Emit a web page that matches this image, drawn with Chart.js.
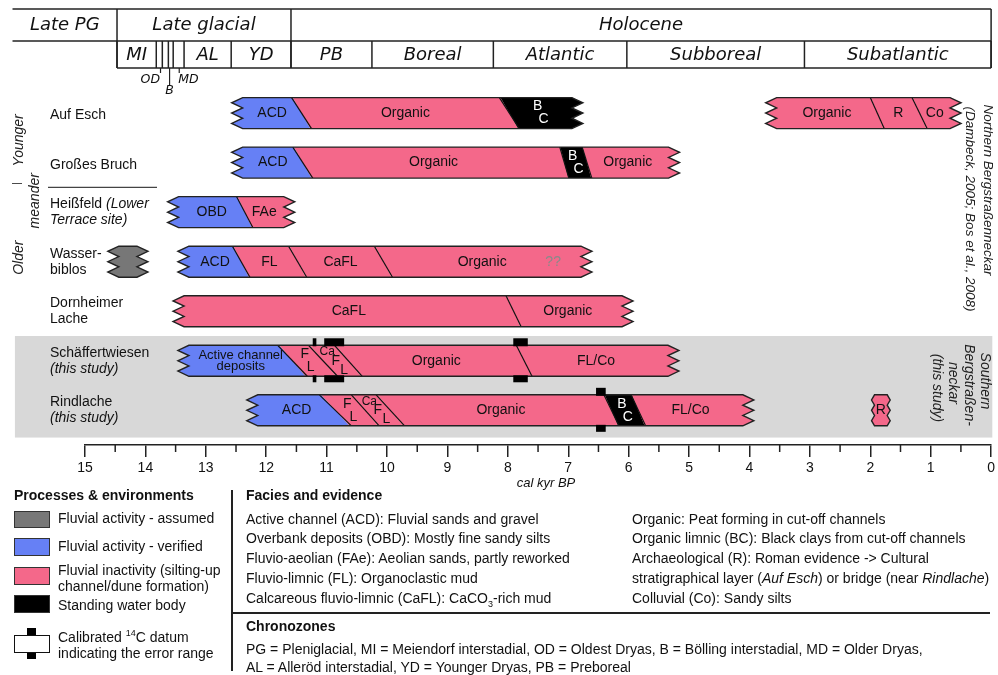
<!DOCTYPE html>
<html>
<head>
<meta charset="utf-8">
<script src="https://cdn.jsdelivr.net/npm/chart.js@4.4.0/dist/chart.umd.min.js"></script>
<style>
html,body{margin:0;padding:0;background:#fff;}
#wrap{position:relative;width:998px;height:675px;overflow:hidden;}
#c{position:absolute;left:0;top:0;}
.lg{position:absolute;font-family:"Liberation Sans",Arial,sans-serif;font-size:14px;line-height:16px;color:#111;white-space:nowrap;}
.b{font-weight:bold;}
.box{position:absolute;width:36px;box-sizing:border-box;border:1px solid #333;}
.rule{position:absolute;background:#222;}
sup,sub{font-size:9px;line-height:0;}
</style>
</head>
<body>
<div id="wrap">
<canvas id="c" width="998" height="675"></canvas>

<div class="lg b" style="left:14px;top:487px">Processes &amp; environments</div>
<div class="box" style="left:14px;top:511px;height:17px;background:#777777"></div>
<div class="lg" style="left:58px;top:510px">Fluvial activity - assumed</div>
<div class="box" style="left:14px;top:538px;height:18px;background:#6680f5"></div>
<div class="lg" style="left:58px;top:538px">Fluvial activity - verified</div>
<div class="box" style="left:14px;top:567px;height:18px;background:#f4688a"></div>
<div class="lg" style="left:58px;top:562px">Fluvial inactivity (silting-up</div>
<div class="lg" style="left:58px;top:578px">channel/dune formation)</div>
<div class="box" style="left:14px;top:595px;height:18px;background:#000"></div>
<div class="lg" style="left:58px;top:597px">Standing water body</div>
<div class="box" style="left:14px;top:635px;height:18px;background:#fff;border:1.5px solid #111"></div>
<div class="rule" style="left:27px;top:628px;width:9px;height:7px;background:#000"></div>
<div class="rule" style="left:27px;top:653px;width:9px;height:6px;background:#000"></div>
<div class="lg" style="left:58px;top:629px">Calibrated <sup>14</sup>C datum</div>
<div class="lg" style="left:58px;top:645px">indicating the error range</div>

<div class="rule" style="left:231px;top:490px;width:1.5px;height:181px"></div>
<div class="rule" style="left:232px;top:612px;width:758px;height:1.5px"></div>

<div class="lg b" style="left:246px;top:487px">Facies and evidence</div>
<div class="lg" style="left:246px;top:511px">Active channel (ACD): Fluvial sands and gravel</div>
<div class="lg" style="left:246px;top:530px">Overbank deposits (OBD): Mostly fine sandy silts</div>
<div class="lg" style="left:246px;top:550px">Fluvio-aeolian (FAe): Aeolian sands, partly reworked</div>
<div class="lg" style="left:246px;top:570px">Fluvio-limnic (FL): Organoclastic mud</div>
<div class="lg" style="left:246px;top:590px">Calcareous fluvio-limnic (CaFL): CaCO<sub>3</sub>-rich mud</div>
<div class="lg" style="left:632px;top:511px">Organic: Peat forming in cut-off channels</div>
<div class="lg" style="left:632px;top:530px">Organic limnic (BC): Black clays from cut-off channels</div>
<div class="lg" style="left:632px;top:550px">Archaeological (R): Roman evidence -&gt; Cultural</div>
<div class="lg" style="left:632px;top:570px">stratigraphical layer (<i>Auf Esch</i>) or bridge (near <i>Rindlache</i>)</div>
<div class="lg" style="left:632px;top:590px">Colluvial (Co): Sandy silts</div>
<div class="lg b" style="left:246px;top:618px">Chronozones</div>
<div class="lg" style="left:246px;top:641px">PG = Pleniglacial, MI = Meiendorf interstadial, OD = Oldest Dryas, B = Bölling interstadial, MD = Older Dryas,</div>
<div class="lg" style="left:246px;top:659px">AL = Alleröd interstadial, YD = Younger Dryas, PB = Preboreal</div>
</div>

<script>
// ---------------- DATA (cal kyr BP) ----------------
// Chronozone table
const epochNames  = ['Late PG', 'Late glacial', 'Holocene'];
const epochBounds = [16.2, 14.47, 11.59, 0];
const zoneNames   = ['MI', '', '', '', '', 'AL', 'YD', 'PB', 'Boreal', 'Atlantic', 'Subboreal', 'Subatlantic'];
const zoneBounds  = [14.47, 13.82, 13.72, 13.62, 13.54, 13.36, 12.58, 11.59, 10.25, 8.24, 6.03, 3.09, 0];
const miniZoneNames = ['OD', 'B', 'MD'];
const miniZoneAt    = [13.75, 13.60, 13.44];

// Sites (rows)
const siteNames = ['Auf Esch', 'Großes Bruch', 'Heißfeld', 'Wasserbiblos', 'Dornheimer Lache', 'Schäffertwiesen', 'Rindlache'];
const siteLabelLines = [
  [[['Auf Esch', 0]]],
  [[['Großes Bruch', 0]]],
  [[['Heißfeld ', 0], ['(Lower', 1]], [['Terrace site)', 1]]],
  [[['Wasser-', 0]], [['biblos', 0]]],
  [[['Dornheimer', 0]], [['Lache', 0]]],
  [[['Schäffertwiesen', 0]], [['(this study)', 1]]],
  [[['Rindlache', 0]], [['(this study)', 1]]]
];

// Process classes: a = fluvial activity assumed, v = verified, i = inactivity, w = standing water
const aufEschA  = {row: 0, from: 12.39, to: 6.94, seg: ['ACD', 'Organic', 'B\nC'], proc: ['v', 'i', 'w'], cuts: [[11.58, 11.25], [8.14, 7.81]]};
const aufEschB  = {row: 0, from: 3.55, to: 0.68, seg: ['Organic', 'R', 'Co'], proc: ['i', 'i', 'i'], cuts: [[2.00, 1.77], [1.31, 1.06]]};
const grossesBruch = {row: 1, from: 12.39, to: 5.34, seg: ['ACD', 'Organic', 'B\nC', 'Organic'], proc: ['v', 'i', 'w', 'i'], cuts: [[11.56, 11.23], [7.14, 6.99], [6.77, 6.61]]};
const heissfeld = {row: 2, from: 13.45, to: 11.71, seg: ['OBD', 'FAe'], proc: ['v', 'i'], cuts: [[12.49, 12.22]]};
const wasserA   = {row: 3, from: 14.44, to: 14.14, seg: [''], proc: ['a'], cuts: []};
const wasserB   = {row: 3, from: 13.28, to: 6.79, seg: ['ACD', 'FL', 'CaFL', 'Organic'], proc: ['v', 'i', 'i', 'i'], cuts: [[12.56, 12.27], [11.63, 11.33], [10.21, 9.91]]};
const dornheim  = {row: 4, from: 13.36, to: 6.11, seg: ['CaFL', 'Organic'], proc: ['i', 'i'], cuts: [[8.03, 7.78]]};
const schaeff   = {row: 5, from: 13.28, to: 5.35, seg: ['Active channel\ndeposits', 'F\nL', 'Ca\nF\nL', 'Organic', 'FL/Co'], proc: ['v', 'i', 'i', 'i', 'i'], cuts: [[11.81, 11.32], [11.30, 10.82], [10.87, 10.41], [7.86, 7.60]]};
const rindA     = {row: 6, from: 12.14, to: 4.11, seg: ['ACD', 'F\nL', 'Ca\nF\nL', 'Organic', 'B\nC', 'FL/Co'], proc: ['v', 'i', 'i', 'i', 'w', 'i'], cuts: [[11.12, 10.59], [10.59, 10.13], [10.18, 9.71], [6.41, 6.16], [5.96, 5.72]]};
const rindR     = {row: 6, from: 1.93, to: 1.72, seg: ['R'], proc: ['i'], cuts: [], small: true};
const bars = [aufEschA, aufEschB, grossesBruch, heissfeld, wasserA, wasserB, dornheim, schaeff, rindA, rindR];

// Uncertain note
const noteRow = [3], noteAt = [7.25], noteText = ['??'];

// Calibrated 14C data (error range)
const c14Row  = [5, 5, 5, 6];
const c14From = [11.23, 11.04, 7.91, 6.54];
const c14To   = [11.17, 10.71, 7.67, 6.38];

// Minor axis ticks
const minorTicks = [14.5, 13.5, 12.5, 11.5, 10.5, 9.5, 8.5, 7.5, 6.5, 5.5, 4.5, 3.5, 2.5, 1.5, 0.5];

// ---------------- STYLE ----------------
const COLORS = {v: '#6680f5', i: '#f4688a', w: '#000000', a: '#777777'};
const SANS = '"Liberation Sans", Arial, sans-serif';
const HEAD = '"DejaVu Sans", Verdana, sans-serif';
const BAR_H = 31;

function barPath(ctx, xl, xr, top, bot, d) {
  const h = bot - top;
  ctx.beginPath();
  ctx.moveTo(xl, top);
  ctx.lineTo(xr, top);
  for (let j = 0; j < 3; j++) {
    ctx.lineTo(xr + d, top + (2 * j + 1) * h / 6);
    ctx.lineTo(xr, top + (2 * j + 2) * h / 6);
  }
  ctx.lineTo(xl, bot);
  for (let j = 0; j < 3; j++) {
    ctx.lineTo(xl - d, bot - (2 * j + 1) * h / 6);
    ctx.lineTo(xl, bot - (2 * j + 2) * h / 6);
  }
  ctx.closePath();
}

function drawSegLabel(ctx, text, cx, cy, color) {
  const lines = text.split('\n');
  const n = lines.length;
  const diag = lines.every(l => l.length <= 2);
  const dy = diag ? (n === 2 ? 13 : 9) : 11;
  const dx = diag ? (n === 2 ? 6 : 8.5) : 0;
  ctx.fillStyle = color;
  ctx.textAlign = 'center';
  ctx.textBaseline = 'middle';
  lines.forEach((l, k) => {
    const off = k - (n - 1) / 2;
    const size = l === 'Ca' ? 12 : (!diag && n > 1 ? 13 : 14);
    ctx.font = size + 'px ' + SANS;
    ctx.fillText(l, cx + off * dx, cy + off * dy);
  });
}

function rotLines(ctx, lines, x0, step, cy, angle, font) {
  ctx.save();
  ctx.font = font;
  ctx.fillStyle = '#222';
  ctx.textAlign = 'center';
  ctx.textBaseline = 'middle';
  lines.forEach((l, k) => {
    ctx.save();
    ctx.translate(x0 + k * step, Array.isArray(cy) ? cy[k] : cy);
    ctx.rotate(angle);
    ctx.fillText(l, 0, 0);
    ctx.restore();
  });
  ctx.restore();
}

const stratPlugin = {
  id: 'strat',
  beforeDraw(chart) {
    const {ctx} = chart;
    const xs = chart.scales.x, ys = chart.scales.y;
    ctx.save();
    ctx.fillStyle = '#fff';
    ctx.fillRect(0, 0, chart.width, chart.height);
    // grey band for this study
    const bx0 = xs.getPixelForValue(16.16), bx1 = xs.getPixelForValue(-0.02);
    const by0 = ys.getPixelForValue(4.5), by1 = ys.getPixelForValue(6.55);
    ctx.fillStyle = '#d8d8d8';
    ctx.fillRect(bx0, by0, bx1 - bx0, by1 - by0);
    ctx.restore();
  },
  afterDraw(chart) {
    const {ctx} = chart;
    const xs = chart.scales.x, ys = chart.scales.y;
    const px = v => xs.getPixelForValue(v);
    const rowY = r => ys.getPixelForValue(r);
    ctx.save();

    // ----- chronozone table -----
    const T0 = 9, T1 = 41, T2 = 68;
    ctx.strokeStyle = '#222';
    ctx.lineWidth = 1.5;
    const line = (x0, y0, x1, y1) => { ctx.beginPath(); ctx.moveTo(x0, y0); ctx.lineTo(x1, y1); ctx.stroke(); };
    line(px(epochBounds[0]), T0, px(0), T0);
    line(px(epochBounds[0]), T1, px(0), T1);
    line(px(zoneBounds[0]), T2, px(0), T2);
    epochBounds.slice(1).forEach(b => line(px(b), T0, px(b), T2));
    zoneBounds.forEach(b => line(px(b), T1, px(b), T2));
    ctx.lineWidth = 1.2;
    miniZoneAt.forEach((v, k) => line(px(v), T2, px(v), miniZoneNames[k] === 'B' ? 85 : 73));

    ctx.fillStyle = '#111';
    ctx.textAlign = 'center';
    ctx.textBaseline = 'middle';
    ctx.font = 'italic 18px ' + HEAD;
    epochNames.forEach((nm, k) => ctx.fillText(nm, (px(epochBounds[k]) + px(epochBounds[k + 1])) / 2, 25));
    zoneNames.forEach((nm, k) => { if (nm) ctx.fillText(nm, (px(zoneBounds[k]) + px(zoneBounds[k + 1])) / 2, 55); });
    ctx.font = 'italic 12.5px ' + HEAD;
    miniZoneNames.forEach((nm, k) => {
      const x = px(miniZoneAt[k]);
      if (nm === 'B') ctx.fillText(nm, x, 91);
      else if (k === 0) { ctx.textAlign = 'right'; ctx.fillText(nm, x - 0.5, 80); ctx.textAlign = 'center'; }
      else { ctx.textAlign = 'left'; ctx.fillText(nm, x - 1, 80); ctx.textAlign = 'center'; }
    });

    // ----- bars -----
    bars.forEach(b => {
      const yc = rowY(b.row), top = yc - BAR_H / 2, bot = yc + BAR_H / 2;
      const xl = px(b.from), xr = px(b.to);
      const d = b.small ? 3 : 11;
      const n = b.seg.length;
      ctx.save();
      barPath(ctx, xl, xr, top, bot, d);
      ctx.clip();
      for (let k = 0; k < n; k++) {
        const L = k === 0 ? [xl - d - 5, xl - d - 5] : b.cuts[k - 1].map(px);
        const R = k === n - 1 ? [xr + d + 5, xr + d + 5] : b.cuts[k].map(px);
        ctx.beginPath();
        ctx.moveTo(L[0], top - 2); ctx.lineTo(R[0], top - 2);
        ctx.lineTo(R[1], bot + 2); ctx.lineTo(L[1], bot + 2);
        ctx.closePath();
        ctx.fillStyle = COLORS[b.proc[k]];
        ctx.fill();
      }
      ctx.strokeStyle = '#111';
      ctx.lineWidth = 1.2;
      b.cuts.forEach(c => line(px(c[0]), top, px(c[1]), bot));
      ctx.restore();
      barPath(ctx, xl, xr, top, bot, d);
      ctx.strokeStyle = '#222';
      ctx.lineWidth = 1.4;
      ctx.stroke();
      for (let k = 0; k < n; k++) {
        if (!b.seg[k]) continue;
        const lm = k === 0 ? xl : (px(b.cuts[k - 1][0]) + px(b.cuts[k - 1][1])) / 2;
        const rm = k === n - 1 ? xr : (px(b.cuts[k][0]) + px(b.cuts[k][1])) / 2;
        drawSegLabel(ctx, b.seg[k], (lm + rm) / 2, yc, b.proc[k] === 'w' ? '#fff' : '#111');
      }
    });

    // notes
    ctx.font = '14px ' + SANS;
    ctx.fillStyle = '#8a8a8a';
    noteText.forEach((t, k) => ctx.fillText(t, px(noteAt[k]), rowY(noteRow[k])));

    // 14C markers
    ctx.fillStyle = '#000';
    c14Row.forEach((r, k) => {
      const yc = rowY(r), top = yc - BAR_H / 2, bot = yc + BAR_H / 2;
      const x0 = px(c14From[k]), x1 = px(c14To[k]);
      ctx.fillRect(x0, top - 7, x1 - x0, 8);
      ctx.fillRect(x0, bot - 1, x1 - x0, 7);
    });

    // ----- site labels -----
    ctx.fillStyle = '#111';
    ctx.textAlign = 'left';
    ctx.textBaseline = 'middle';
    siteLabelLines.forEach((lines, r) => {
      const yc = rowY(r);
      lines.forEach((parts, li) => {
        const y = lines.length === 1 ? yc + 2.5 : yc + (li === 0 ? -8 : 8);
        let x = 50;
        parts.forEach(([t, it]) => {
          ctx.font = (it ? 'italic ' : '') + '14px ' + SANS;
          ctx.fillText(t, x, y);
          x += ctx.measureText(t).width;
        });
      });
    });

    // divider between younger / older meander
    ctx.strokeStyle = '#444';
    ctx.lineWidth = 1.2;
    line(48, rowY(1.5), 157, rowY(1.5));

    // rotated group labels (left)
    const lf = 'italic 14px ' + SANS;
    rotLines(ctx, ['Younger'], 19, 0, rowY(0.55), -Math.PI / 2, lf);
    rotLines(ctx, ['Older'], 19, 0, rowY(2.92), -Math.PI / 2, lf);
    rotLines(ctx, ['meander'], 35, 0, rowY(1.77), -Math.PI / 2, lf);
    rotLines(ctx, ['|'], 17, 0, rowY(1.42), -Math.PI / 2, '10px ' + SANS);

    // rotated region labels (right)
    rotLines(ctx, ['Northern Bergstraßenneckar', '(Dambeck, 2005; Bos et al., 2008)'], 988, -18, [190, 209], Math.PI / 2, 'italic 13.5px ' + SANS);
    rotLines(ctx, ['Southern', 'Bergstraßen-', 'neckar', '(this study)'], 985, -16, [381, 385, 383, 388], Math.PI / 2, 'italic 14px ' + SANS);

    // ----- minor ticks and axis title -----
    ctx.strokeStyle = '#222';
    ctx.lineWidth = 1.5;
    minorTicks.forEach(v => line(px(v), xs.top, px(v), xs.top + 7));
    ctx.fillStyle = '#111';
    ctx.font = 'italic 13px ' + SANS;
    ctx.textAlign = 'center';
    ctx.fillText('cal kyr BP', 546, 483);

    ctx.restore();
  }
};

Chart.defaults.font.family = SANS;
new Chart(document.getElementById('c'), {
  type: 'scatter',
  data: {datasets: []},
  options: {
    responsive: false,
    animation: false,
    devicePixelRatio: 1,
    layout: {padding: {left: 85, right: 5, top: 14, bottom: 195.2}},
    plugins: {legend: {display: false}, tooltip: {enabled: false}},
    scales: {
      x: {
        type: 'linear', min: 0, max: 15, reverse: true, position: 'bottom',
        ticks: {stepSize: 1, color: '#111', padding: 3, maxRotation: 0, autoSkip: false, font: {size: 14, family: SANS}},
        grid: {drawOnChartArea: false, drawTicks: true, tickLength: 12, color: '#222', lineWidth: 1.5},
        border: {display: true, color: '#222', width: 1.5}
      },
      y: {type: 'linear', min: -2, max: 6.7, reverse: true, display: false}
    }
  },
  plugins: [stratPlugin]
});
</script>
</body>
</html>
